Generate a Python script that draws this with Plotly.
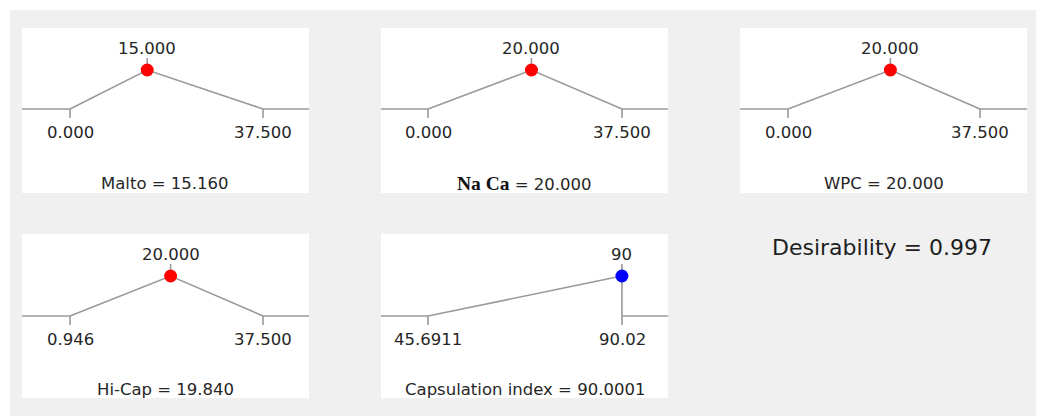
import plotly.graph_objects as go

# ---- data ----
factors = ["Malto", "Na Ca", "WPC", "Hi-Cap", "Capsulation index"]
lows = [0.0, 0.0, 0.0, 0.946, 45.6911]
highs = [37.5, 37.5, 37.5, 37.5, 90.02]
targets = [15.0, 20.0, 20.0, 20.0, 90.0]
goals = ["target", "target", "target", "target", "maximize"]
low_labels = ["0.000", "0.000", "0.000", "0.946", "45.6911"]
high_labels = ["37.500", "37.500", "37.500", "37.500", "90.02"]
target_labels = ["15.000", "20.000", "20.000", "20.000", "90"]
current_labels = ["15.160", "20.000", "20.000", "19.840", "90.0001"]
desirability_label = "0.997"

# ---- layout (pixels in the 1044x416 page; body margin offset removed) ----
OFF = 8
W, H = 1044 - OFF, 416 - OFF
panels = [
    dict(box=(22, 309, 28, 193), ticks=(70, 263), base=109, peak=70, title=183),
    dict(box=(381, 668, 28, 193), ticks=(428, 622), base=109, peak=70, title=183),
    dict(box=(740, 1027, 28, 193), ticks=(788, 980), base=109, peak=70, title=183),
    dict(box=(22, 309, 234, 398), ticks=(70, 263), base=316, peak=276, title=389),
    dict(box=(381, 668, 234, 398), ticks=(428, 622), base=316, peak=276, title=389),
]
marker_colors = ["#ff0000", "#ff0000", "#ff0000", "#ff0000", "#0000ff"]

LINE = "#9a9a9a"
TXT = "#262626"
FONT = "DejaVu Sans"
FS = 16.5


def X(px):
    return (px - OFF) / W


def Y(py):
    return 1 - (py - OFF) / H


fig = go.Figure()
annotations = []
layout_axes = {}

for i, pn in enumerate(panels):
    k = "" if i == 0 else str(i + 1)
    x0, x1, y0, y1 = pn["box"]
    tl, th = pn["ticks"]
    b, p = pn["base"], pn["peak"]
    lo, hi, tg = lows[i], highs[i], targets[i]
    sx = (th - tl) / (hi - lo)
    sy = (b - p) / 1.0
    xr = [lo - (tl - x0) / sx, hi + (x1 - th) / sx]
    yr = [-(y1 - b) / sy, (b - y0) / sy]
    tick_d = 9 / sy
    top_d = 12 / sy

    xs = [xr[0], lo, None]
    ys = [0, 0, None]
    if goals[i] == "target":
        xs += [lo, tg, hi, None]
        ys += [0, 1, 0, None]
    else:
        xs += [lo, tg, tg, None]
        ys += [0, 1, 0, None]
    xs += [hi, xr[1], None, lo, lo, None, hi, hi, None, tg, tg]
    ys += [0, 0, None, 0, -tick_d, None, 0, -tick_d, None, 1, 1 + top_d]

    fig.add_trace(go.Scatter(x=xs, y=ys, mode="lines",
                             line=dict(color=LINE, width=1.6),
                             xaxis="x" + k, yaxis="y" + k, hoverinfo="skip",
                             showlegend=False))
    fig.add_trace(go.Scatter(x=[tg], y=[1], mode="markers",
                             marker=dict(color=marker_colors[i], size=13,
                                         line=dict(width=0)),
                             xaxis="x" + k, yaxis="y" + k, showlegend=False))

    layout_axes["xaxis" + k] = dict(domain=[X(x0), X(x1)], range=xr,
                                    visible=False, fixedrange=True,
                                    anchor="y" + k)
    layout_axes["yaxis" + k] = dict(domain=[Y(y1), Y(y0)], range=yr,
                                    visible=False, fixedrange=True,
                                    anchor="x" + k)

    f = dict(family=FONT, size=FS, color=TXT)
    annotations.append(dict(x=tg, y=1, xref="x" + k, yref="y" + k,
                            text=target_labels[i], showarrow=False,
                            yanchor="middle", yshift=22, font=f))
    annotations.append(dict(x=lo, y=0, xref="x" + k, yref="y" + k,
                            text=low_labels[i], showarrow=False,
                            yanchor="middle", yshift=-23, font=f))
    annotations.append(dict(x=hi, y=0, xref="x" + k, yref="y" + k,
                            text=high_labels[i], showarrow=False,
                            yanchor="middle", yshift=-23, font=f))
    if factors[i] == "Na Ca":
        name = ('<span style="font-family:Liberation Serif;font-size:19.5px;'
                'color:#111111"><b>' + factors[i] + '</b></span>')
    else:
        name = factors[i]
    annotations.append(dict(x=0.5, xref="x" + k + " domain",
                            y=0 - (pn["title"] - b) / sy, yref="y" + k,
                            text=name + " = " + current_labels[i],
                            showarrow=False, yanchor="middle", font=f))

annotations.append(dict(x=X(882), y=Y(247), xref="paper", yref="paper",
                        text="Desirability = " + desirability_label,
                        showarrow=False, xanchor="center", yanchor="middle",
                        font=dict(family=FONT, size=22, color="#1e1e1e")))

fig.update_layout(
    width=W, height=H,
    margin=dict(l=0, r=0, t=0, b=0),
    paper_bgcolor="#f0f0f0",
    plot_bgcolor="#ffffff",
    annotations=annotations,
    shapes=[
        dict(type="rect", xref="paper", yref="paper", x0=0, x1=1,
             y0=Y(10), y1=1, fillcolor="#ffffff", line=dict(width=0),
             layer="below"),
        dict(type="rect", xref="paper", yref="paper", x0=0, x1=X(10),
             y0=0, y1=1, fillcolor="#ffffff", line=dict(width=0),
             layer="below"),
    ],
    **layout_axes,
)

fig.write_html("out.html")
